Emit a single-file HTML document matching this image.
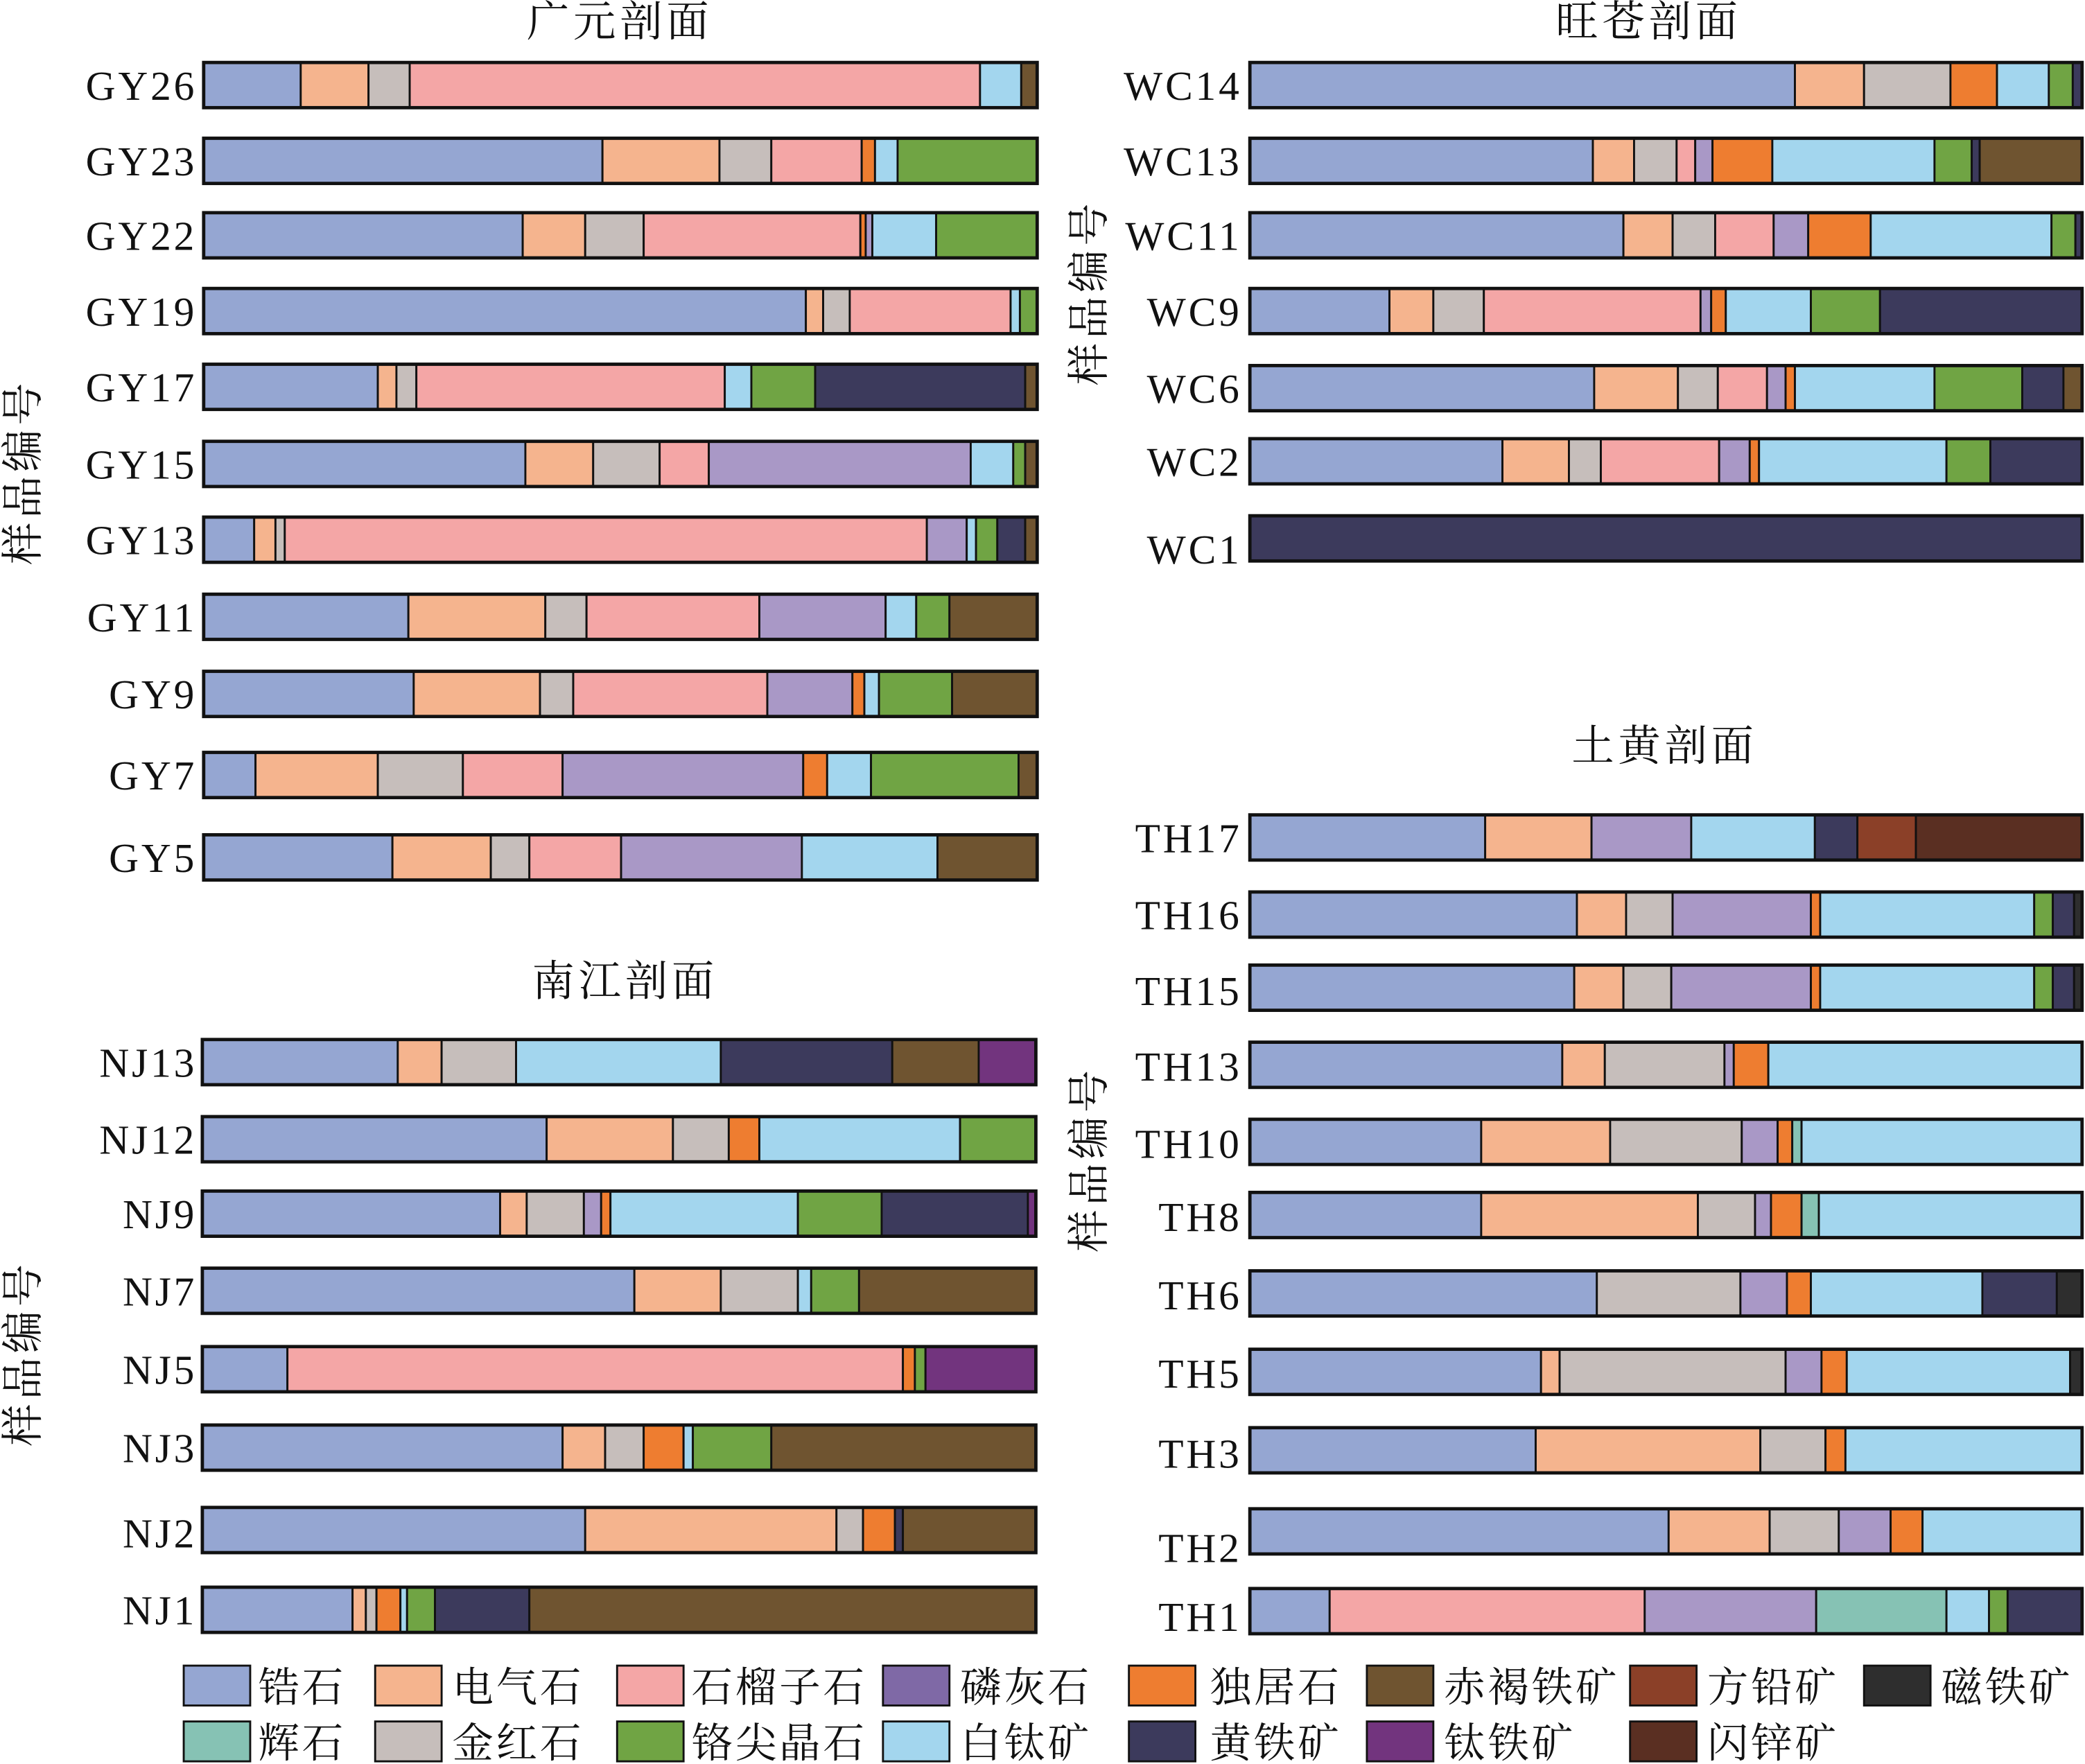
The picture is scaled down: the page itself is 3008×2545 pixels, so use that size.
<!DOCTYPE html>
<html><head><meta charset="utf-8"><style>
html,body{margin:0;padding:0;background:#fff;}
svg{display:block;}
text{font-family:"Liberation Serif","Noto Serif CJK SC","Noto Sans CJK SC",serif;fill:#111;}
.lb{font-size:31px;text-anchor:end;letter-spacing:2px;}
.tt{font-size:32px;text-anchor:middle;letter-spacing:3px;}
.lg{font-size:31px;letter-spacing:2px;}
</style></head><body>
<svg id="s" width="3008" height="2545" viewBox="0 0 1568 1327" xmlns="http://www.w3.org/2000/svg">
<g id="bars"></g>
<text class="tt" x="466" y="27">广元剖面</text>
<text class="tt" x="1240" y="27">旺苍剖面</text>
<text class="tt" x="1252" y="572">土黄剖面</text>
<text class="tt" x="470" y="749">南江剖面</text>
<text class="tt" transform="translate(28,355) rotate(-90)">样品编号</text>
<text class="tt" transform="translate(28,1018) rotate(-90)">样品编号</text>
<text class="tt" transform="translate(830,220) rotate(-90)">样品编号</text>
<text class="tt" transform="translate(830,872) rotate(-90)">样品编号</text>
<g class="lb">
<text x="148" y="75">GY26</text><text x="148" y="132">GY23</text><text x="148" y="188">GY22</text><text x="148" y="245">GY19</text><text x="148" y="302">GY17</text><text x="148" y="360">GY15</text><text x="148" y="417">GY13</text><text x="148" y="475">GY11</text><text x="148" y="533">GY9</text><text x="148" y="594">GY7</text><text x="148" y="656">GY5</text>
<text x="148" y="810">NJ13</text><text x="148" y="868">NJ12</text><text x="148" y="924">NJ9</text><text x="148" y="982">NJ7</text><text x="148" y="1041">NJ5</text><text x="148" y="1100">NJ3</text><text x="148" y="1164">NJ2</text><text x="148" y="1222">NJ1</text>
<text x="934" y="75">WC14</text><text x="934" y="132">WC13</text><text x="934" y="188">WC11</text><text x="934" y="245">WC9</text><text x="934" y="303">WC6</text><text x="934" y="358">WC2</text><text x="934" y="424">WC1</text>
<text x="934" y="641">TH17</text><text x="934" y="699">TH16</text><text x="934" y="756">TH15</text><text x="934" y="813">TH13</text><text x="934" y="871">TH10</text><text x="934" y="926">TH8</text><text x="934" y="985">TH6</text><text x="934" y="1044">TH5</text><text x="934" y="1104">TH3</text><text x="934" y="1175">TH2</text><text x="934" y="1227">TH1</text>
</g>
<g id="leg"></g>
<g class="lg">
<text x="194" y="1280">锆石</text><text x="340" y="1280">电气石</text><text x="520" y="1280">石榴子石</text><text x="722" y="1280">磷灰石</text><text x="910" y="1280">独居石</text><text x="1086" y="1280">赤褐铁矿</text><text x="1284" y="1280">方铅矿</text><text x="1460" y="1280">磁铁矿</text>
<text x="194" y="1322">辉石</text><text x="340" y="1322">金红石</text><text x="520" y="1322">铬尖晶石</text><text x="722" y="1322">白钛矿</text><text x="910" y="1322">黄铁矿</text><text x="1086" y="1322">钛铁矿</text><text x="1284" y="1322">闪锌矿</text>
</g>
</svg>
<script>
var C={Z:"#95a6d2",T:"#f5b48e",G:"#f4a6a6",A:"#a998c6",M:"#ee7d30",H:"#6f5430",Gal:"#8b4028",Mag:"#2e2e2e",Px:"#86c2b4",R:"#c6bebb",C:"#70a444",L:"#a3d6ee",P:"#3c3a5c",I:"#72347e",S:"#5a2f22"};
var D=[
[64,"Z153 T226 R277 G308 L737 H768 780"],
[121,"Z153 T453 R541 G580 M648 L658 C675 780"],
[177,"Z153 T393 R440 G484 M647 A651 L656 C704 780"],
[234,"Z153 T606 R619 G639 L760 C767 780"],
[291,"Z153 T284 R298 G313 L545 C565 P613 H771 780"],
[349,"Z153 T395 R446 G496 A533 L730 C762 H771 780"],
[406,"Z153 T191 R207 G214 A697 L727 C734 P750 H771 780"],
[464,"Z153 T307 R410 G441 A571 L666 C689 H714 780"],
[522,"Z153 T311 R406 G431 A577 M641 L650 C661 H716 780"],
[583,"Z153 T192 R284 G348 A423 M604 L622 C655 H766 780"],
[645,"Z153 T295 R369 G398 A467 L603 H705 780"],
[799,"Z152 T299 R332 L388 P542 H671 I736 779"],
[857,"Z152 T411 R506 M548 L571 C722 779"],
[913,"Z152 T376 R396 A439 M452 L459 C600 P663 I773 779"],
[971,"Z152 T477 R542 L600 C610 H646 779"],
[1030,"Z152 G216 M679 C688 I696 779"],
[1089,"Z152 T423 R455 M484 L514 C521 H580 779"],
[1151,"Z152 T440 R629 M649 P673 H679 779"],
[1211,"Z152 T265 R275 M283 L301 C306 P327 H398 779"],
[64,"Z940 T1350 R1402 M1467 L1502 C1541 P1559 1566"],
[121,"Z940 T1198 R1229 G1261 A1275 M1288 L1333 C1455 P1483 H1489 1566"],
[177,"Z940 T1221 R1258 G1290 A1334 M1360 L1407 C1543 P1561 1566"],
[234,"Z940 T1045 R1078 G1116 A1279 M1287 L1298 C1362 P1414 1566"],
[292,"Z940 T1199 R1262 G1292 A1329 M1343 L1350 C1455 P1521 H1552 1566"],
[347,"Z940 T1130 R1180 G1204 A1293 M1316 L1323 C1464 P1497 1566"],
[405,"P940 1566"],
[630,"Z940 T1117 A1197 L1272 P1365 Gal1397 S1441 1566"],
[688,"Z940 T1186 R1223 A1258 M1362 L1369 C1530 P1544 Mag1560 1566"],
[743,"Z940 T1184 R1221 A1257 M1362 L1369 C1530 P1544 Mag1560 1566"],
[801,"Z940 T1175 R1207 A1297 M1304 L1330 1566"],
[859,"Z940 T1114 R1211 A1310 M1337 Px1348 L1355 1566"],
[914,"Z940 T1114 R1277 A1320 M1332 Px1355 L1368 1566"],
[973,"Z940 R1201 A1309 M1344 L1362 P1491 Mag1547 1566"],
[1032,"Z940 T1159 R1173 A1343 M1370 L1389 Mag1557 1566"],
[1091,"Z940 T1155 R1324 M1373 L1388 1566"],
[1152,"Z940 T1255 R1331 A1383 M1422 L1446 1566"],
[1212,"Z940 G1000 A1237 Px1366 L1464 C1496 P1510 1566"]
];
var h="";
D.forEach(function(r){var y=r[0]-17,t=r[1].split(" ");
for(var i=0;i<t.length-1;i++){var m=t[i].match(/^([A-Za-z]+)(\d+)$/);var x1=+m[2],x2=+(t[i+1].replace(/^[A-Za-z]+/,""));
h+='<rect x="'+x1+'" y="'+y+'" width="'+(x2-x1)+'" height="34" fill="'+C[m[1]]+'" stroke="#111" stroke-width="1.5"/>';}
var a=+t[0].replace(/^[A-Za-z]+/,""),b=+t[t.length-1];
h+='<rect x="'+a+'" y="'+y+'" width="'+(b-a)+'" height="34" fill="none" stroke="#111" stroke-width="2.5"/>';});
document.getElementById("bars").innerHTML=h;
var L=[[138,1253,"Z"],[282,1253,"T"],[464,1253,"G"],[664,1253,"#7f69a6"],[849,1253,"M"],[1028,1253,"H"],[1226,1253,"Gal"],[1402,1253,"Mag"],
[138,1295,"Px"],[282,1295,"R"],[464,1295,"C"],[664,1295,"L"],[849,1295,"P"],[1028,1295,"I"],[1226,1295,"S"]];
var g="";L.forEach(function(l){var f=C[l[2]]||l[2];g+='<rect x="'+l[0]+'" y="'+l[1]+'" width="50" height="30" fill="'+f+'" stroke="#111" stroke-width="1.5"/>';});
document.getElementById("leg").innerHTML=g;
</script>
</body></html>
